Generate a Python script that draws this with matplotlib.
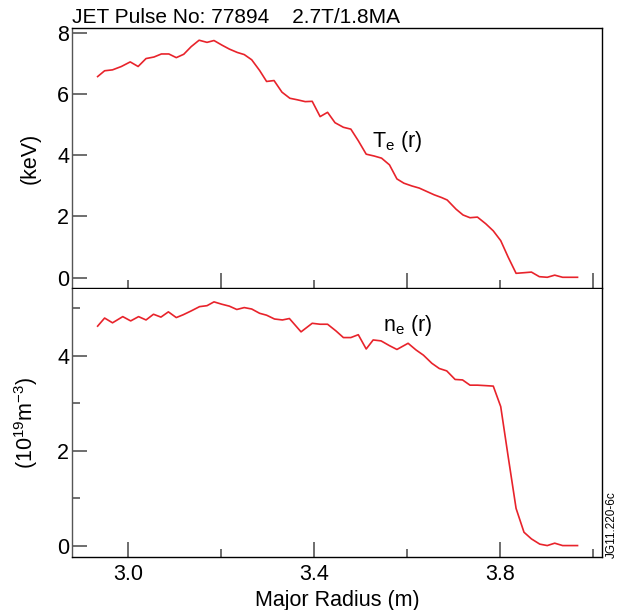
import matplotlib
matplotlib.use("Agg")
import matplotlib.pyplot as plt
from matplotlib.ticker import MultipleLocator

plt.rcParams['font.family'] = ['Liberation Sans', 'DejaVu Sans']
plt.rcParams['mathtext.fontset'] = 'custom'
plt.rcParams['mathtext.rm'] = 'Liberation Sans'

# radius (m) for the temperature profile
radius = [2.935, 2.950, 2.967, 2.986, 3.005, 3.022, 3.039, 3.056, 3.072, 3.088,
          3.104, 3.120, 3.136, 3.153, 3.170, 3.185, 3.202, 3.218, 3.235, 3.250,
          3.266, 3.283, 3.298, 3.314, 3.331, 3.348, 3.364, 3.381, 3.396, 3.413,
          3.429, 3.445, 3.463, 3.479, 3.495, 3.512, 3.529, 3.545, 3.562, 3.578,
          3.593, 3.610, 3.626, 3.642, 3.658, 3.674, 3.686, 3.705, 3.720, 3.735,
          3.751, 3.769, 3.785, 3.801, 3.817, 3.834, 3.851, 3.867, 3.884, 3.901,
          3.917, 3.934, 3.950, 3.966]

# electron temperature (keV)
te = [6.58, 6.77, 6.80, 6.91, 7.06, 6.91, 7.17, 7.22, 7.32, 7.32,
      7.20, 7.31, 7.56, 7.77, 7.70, 7.76, 7.61, 7.48, 7.37, 7.30,
      7.13, 6.78, 6.42, 6.45, 6.07, 5.87, 5.82, 5.76, 5.77, 5.27,
      5.41, 5.07, 4.92, 4.86, 4.48, 4.04, 3.98, 3.91, 3.69, 3.23,
      3.09, 3.00, 2.93, 2.82, 2.71, 2.62, 2.54, 2.24, 2.05, 1.96,
      1.98, 1.76, 1.53, 1.21, 0.67, 0.14, 0.16, 0.18, 0.03, 0.01,
      0.08, 0.01, 0.01, 0.01]

# electron density (1e19 m^-3)
ne_r = [2.935, 2.950, 2.967, 2.989, 3.006, 3.023, 3.039, 3.055, 3.071, 3.087,
        3.104, 3.119, 3.136, 3.154, 3.170, 3.185, 3.202, 3.218, 3.234, 3.250,
        3.266, 3.283, 3.298, 3.315, 3.332, 3.347, 3.372, 3.396, 3.413, 3.429,
        3.447, 3.463, 3.479, 3.495, 3.512, 3.527, 3.544, 3.562, 3.578, 3.602,
        3.619, 3.635, 3.653, 3.669, 3.685, 3.703, 3.719, 3.735, 3.751, 3.769,
        3.785, 3.801, 3.817, 3.834, 3.851, 3.867, 3.885, 3.901, 3.917, 3.934,
        3.950, 3.966]
ne = [4.62, 4.79, 4.69, 4.82, 4.73, 4.82, 4.75, 4.87, 4.81, 4.92,
      4.80, 4.86, 4.94, 5.03, 5.05, 5.13, 5.08, 5.04, 4.97, 5.01,
      4.98, 4.89, 4.85, 4.77, 4.75, 4.78, 4.50, 4.68, 4.66, 4.66,
      4.52, 4.38, 4.38, 4.44, 4.14, 4.33, 4.31, 4.21, 4.13, 4.26,
      4.12, 4.01, 3.84, 3.73, 3.68, 3.50, 3.49, 3.38, 3.38, 3.37,
      3.36, 2.93, 1.88, 0.79, 0.29, 0.15, 0.04, 0.01, 0.06, 0.01,
      0.01, 0.01]

red = '#e8232b'
tick_col = '#555555'
fs = 15.5

fig = plt.figure(figsize=(6.22, 6.10), dpi=100)
ax1 = fig.add_axes([0.1158, 0.5279, 0.8516, 0.4262])
ax2 = fig.add_axes([0.1158, 0.0869, 0.8516, 0.4393])

ax1.plot(radius, te, color=red, lw=1.2)
ax2.plot(ne_r, ne, color=red, lw=1.2)

for ax in (ax1, ax2):
    ax.set_xlim(2.880, 4.018)
    ax.xaxis.set_major_locator(MultipleLocator(0.4))
    ax.xaxis.set_minor_locator(MultipleLocator(0.2))
    ax.tick_params(which='both', direction='in', top=False, right=False,
                   color=tick_col, width=1.2, labelsize=fs, pad=2)
    ax.tick_params(which='major', length=11)
    ax.tick_params(which='minor', length=6)
    ax.spines['left'].set_color(tick_col)
    for s in ax.spines.values():
        s.set_linewidth(1.0)
ax2.spines['top'].set_visible(False)

ax1.set_ylim(-0.34, 8.17)
ax1.yaxis.set_major_locator(MultipleLocator(2))
ax1.set_xticklabels([])
ax1.set_ylabel('(keV)', fontsize=fs, labelpad=12)
ax1.text(3.5245, 4.28, r'T$_\mathregular{e}$ (r)', fontsize=fs, va='baseline')
ax1.set_title('JET Pulse No: 77894    2.7T/1.8MA', fontsize=15, loc='left',
              x=0.0, pad=3.6)

ax2.set_ylim(-0.23, 5.40)
ax2.yaxis.set_major_locator(MultipleLocator(2))
ax2.yaxis.set_minor_locator(MultipleLocator(1))
ax2.set_xticks([3.0, 3.4, 3.8])
ax2.set_xticklabels(['3.0', '3.4', '3.8'])
ax2.tick_params(axis='x', pad=5)
ax2.set_ylabel(r'(10$^\mathregular{19}$m$^\mathregular{-3}$)', fontsize=fs, labelpad=12)
ax2.set_xlabel('Major Radius (m)', fontsize=fs, labelpad=4)
ax2.text(3.548, 4.52, r'n$_\mathregular{e}$ (r)', fontsize=fs, va='baseline')

fig.text(0.984, 0.085, 'JG11.220-6c', rotation=90, fontsize=8.5,
         ha='center', va='bottom')

fig.savefig('out.png', dpi=100)
